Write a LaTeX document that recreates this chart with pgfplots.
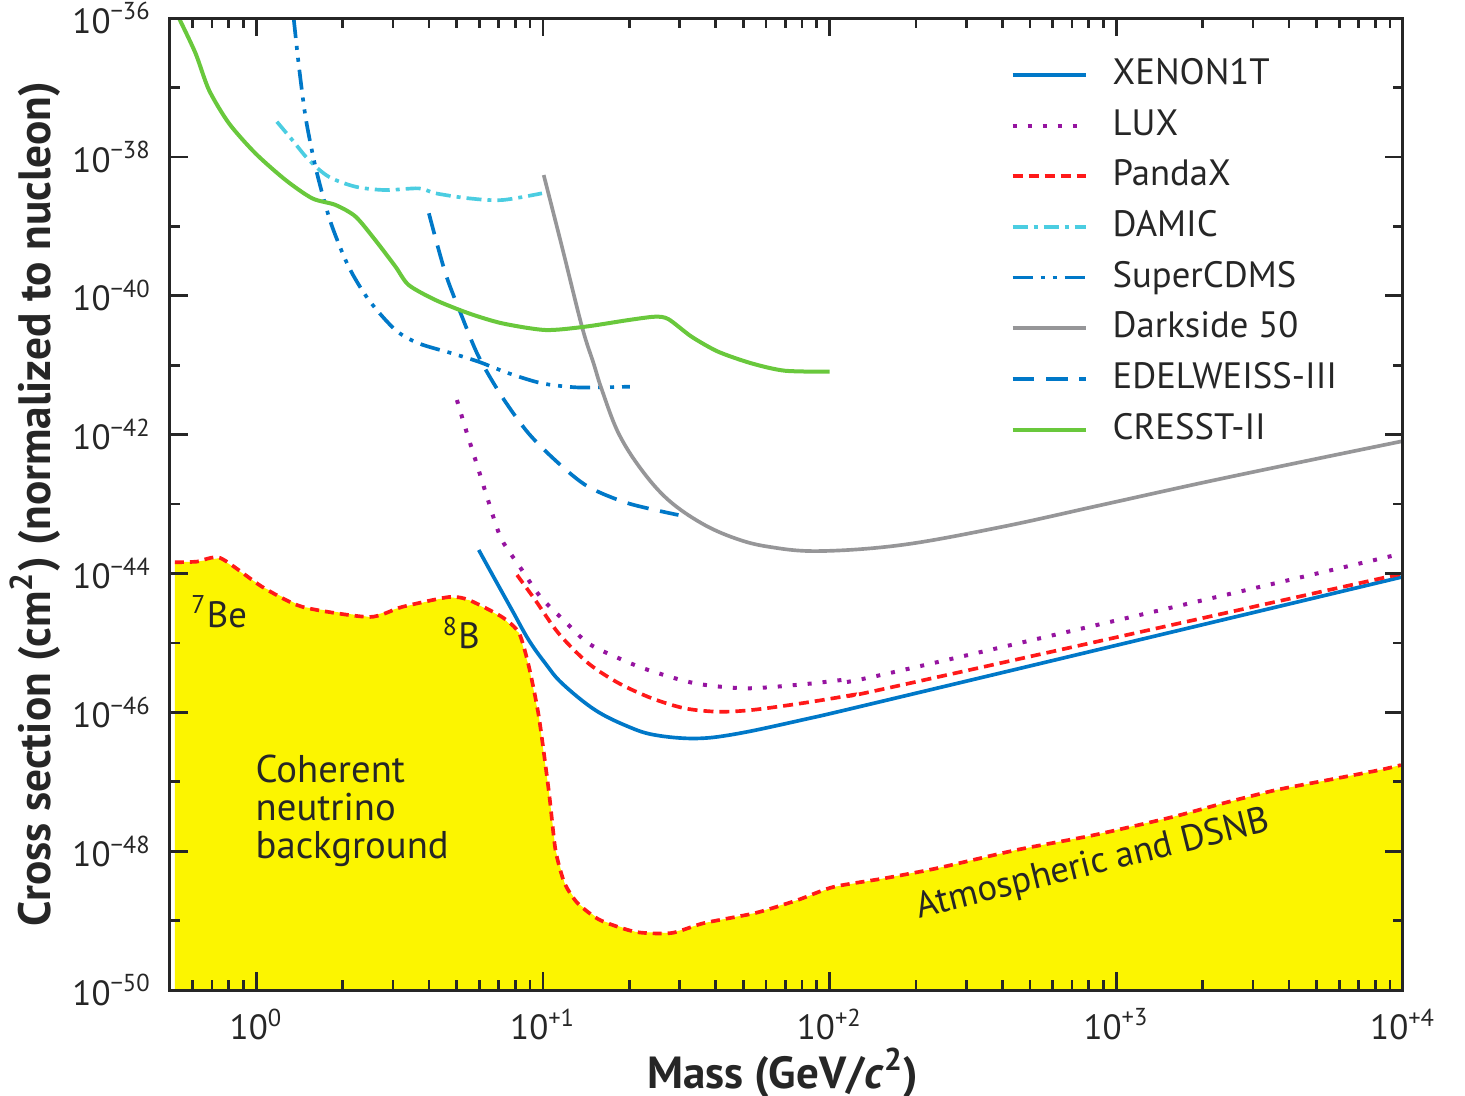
\documentclass[border=0pt]{standalone}
\usepackage{pgfplots}
\pgfplotsset{compat=1.18}
\usepackage{fontspec}
\setmainfont{PT Sans}
\definecolor{xblue}{RGB}{0,120,200}
\definecolor{luxpurple}{RGB}{150,20,160}
\definecolor{pred}{RGB}{255,25,25}
\definecolor{damic}{RGB}{75,205,225}
\definecolor{dsgray}{RGB}{150,150,152}
\definecolor{cgreen}{RGB}{105,200,60}
\definecolor{nyellow}{RGB}{252,245,0}
\begin{document}
\begin{tikzpicture}
\useasboundingbox (-51pt,-31.8pt) rectangle (388.5pt,297pt);
\begin{axis}[
  scale only axis, width=369.9pt, height=291.6pt,
  xmode=log, ymode=log,
  xmin=0.5, xmax=10000, ymin=1e-50, ymax=1e-36,
  xtick={1,10,100,1000,10000},
  xticklabels={10\textsuperscript{0},10\textsuperscript{+1},10\textsuperscript{+2},10\textsuperscript{+3},10\textsuperscript{+4}},
  minor xtick={0.5,0.6,0.7,0.8,0.9,2,3,4,5,6,7,8,9,20,30,40,50,60,70,80,90,200,300,400,500,600,700,800,900,2000,3000,4000,5000,6000,7000,8000,9000},
  ytick={1e-50,1e-48,1e-46,1e-44,1e-42,1e-40,1e-38,1e-36},
  yticklabels={10\textsuperscript{\textminus 50},10\textsuperscript{\textminus 48},10\textsuperscript{\textminus 46},10\textsuperscript{\textminus 44},10\textsuperscript{\textminus 42},10\textsuperscript{\textminus 40},10\textsuperscript{\textminus 38},10\textsuperscript{\textminus 36}},
  minor ytick={1e-49,1e-47,1e-45,1e-43,1e-41,1e-39,1e-37},
  tick align=inside,
  major tick length=5.5pt, minor tick length=3pt,
  every tick/.style={black!85, line width=0.8pt},
  axis line style={black!85, line width=0.9pt},
  axis on top,
  tick label style={font=\fontsize{10.5}{12}\selectfont, text=black!85},
  yticklabel style={inner xsep=0pt, xshift=-5.4pt},
  xticklabel style={inner ysep=0pt, yshift=-5.4pt},
  xlabel={Mass (GeV/\textit{c}\textsuperscript{2})},
  ylabel={Cross section (cm\textsuperscript{2}) (normalized to nucleon)},
  every axis x label/.style={at={(axis description cs:0.497,-0.0855)}, anchor=center, text=black!85, font=\fontsize{13.5}{15}\selectfont\bfseries},
  every axis y label/.style={at={(axis description cs:-0.1095,0.5)}, rotate=90, anchor=center, text=black!85, font=\fontsize{13.6}{15}\selectfont\bfseries},
  legend image code/.code={\draw[#1] (0pt,0pt) -- (22pt,0pt);},
  legend cell align=left,
  legend style={at={(axis description cs:0.6813,0.959)}, anchor=north west,
    draw=none, fill=none, inner sep=0pt, row sep=5.4pt, column sep=7.4pt,
    font=\fontsize{11}{13}\selectfont, text=black!85,
    nodes={inner sep=0pt, text height=7.8pt, text depth=2pt}},
]
% neutrino floor fill
\addplot[fill=nyellow, draw=none, forget plot] coordinates {
 (0.52,1.45e-44) (0.62,1.48e-44) (0.749,1.67e-44) (1.05,6.4e-45) (1.45,3.3e-45)
 (2.48,2.36e-45) (3.23,3.3e-45) (4.70,4.58e-45) (5.52,4.14e-45) (7.20,2.36e-45)
 (8.25,1.39e-45) (8.94,4.49e-46) (9.68,8.55e-47) (10.5,6.9e-48) (11.06,1.04e-48)
 (11.89,3.48e-49) (13.2,1.79e-49) (15.8,1.02e-49) (21.1,6.86e-50) (28.1,6.63e-50)
 (36.4,9.2e-50) (55.2,1.29e-49) (77.4,1.98e-49) (103,3.05e-49) (157,4.1e-49)
 (238,5.7e-49) (448,1.04e-48) (838,1.71e-48) (1567,3.1e-48) (2377,4.94e-48)
 (3607,7.6e-48) (5480,1.06e-47) (8318,1.48e-47) (9840,1.74e-47)
 (9840,1e-51) (0.52,1e-51)} -- cycle;
\addplot[pred, line width=1.1pt, dash pattern=on 2.7pt off 1.8pt, smooth, tension=0.4, forget plot] coordinates {
 (0.52,1.45e-44) (0.62,1.48e-44) (0.749,1.67e-44) (1.05,6.4e-45) (1.45,3.3e-45)
 (2.48,2.36e-45) (3.23,3.3e-45) (4.70,4.58e-45) (5.52,4.14e-45) (7.20,2.36e-45)
 (8.25,1.39e-45) (8.94,4.49e-46) (9.68,8.55e-47) (10.5,6.9e-48) (11.06,1.04e-48)
 (11.89,3.48e-49) (13.2,1.79e-49) (15.8,1.02e-49) (21.1,6.86e-50) (28.1,6.63e-50)
 (36.4,9.2e-50) (55.2,1.29e-49) (77.4,1.98e-49) (103,3.05e-49) (157,4.1e-49)
 (238,5.7e-49) (448,1.04e-48) (838,1.71e-48) (1567,3.1e-48) (2377,4.94e-48)
 (3607,7.6e-48) (5480,1.06e-47) (8318,1.48e-47) (9840,1.74e-47)};
% XENON1T
\addplot[xblue, line width=1.1pt, smooth, tension=0.6] coordinates {
 (5.97,2.18e-44) (6.82,8.05e-45) (7.80,2.97e-45) (8.92,1.10e-45) (10.19,5.08e-46)
 (11.65,2.62e-46) (15.2,1.08e-46) (19.89,6.2e-47) (24.6,4.71e-47) (33.9,4.2e-47)
 (46.8,4.86e-47) (79.9,7.74e-47) (178,1.68e-46) (10000,8.97e-45)};
\addlegendentry{XENON1T}
% LUX
\addplot[luxpurple, line width=1.2pt, dash pattern=on 1.2pt off 3.3pt, smooth, tension=0.5] coordinates {
 (5.01,3.15e-42) (5.43,1.05e-42) (5.89,3.65e-43) (6.38,1.27e-43) (6.92,4.47e-44)
 (7.30,2.72e-44) (8.45,1.12e-44) (9.79,4.63e-45) (11.8,2.13e-45) (14.4,9.86e-46)
 (18.4,6.0e-46) (23.3,4.07e-46) (33.9,2.62e-46) (50.7,2.22e-46) (75.7,2.47e-46)
 (110,2.92e-46) (164,3.72e-46) (10000,1.95e-44)};
\addlegendentry{LUX}
% PandaX
\addplot[pred, line width=1.1pt, dash pattern=on 3pt off 1.8pt, smooth, tension=0.5] coordinates {
 (8.12,9.5e-45) (9.40,4.14e-45) (11.34,1.37e-45) (14.4,5.08e-46) (18.4,2.62e-46)
 (24.0,1.59e-46) (31.3,1.14e-46) (40.9,1.02e-46) (53.5,1.08e-46) (79.9,1.35e-46)
 (119,1.77e-46) (178,2.47e-46) (10000,1.0e-44)};
\addlegendentry{PandaX}
% DAMIC
\addplot[damic, line width=1.1pt, dash pattern=on 4.5pt off 1.8pt on 1.2pt off 1.8pt, smooth, tension=0.5] coordinates {
 (1.18,3.21e-38) (1.335,1.75e-38) (1.526,9.0e-39) (1.79,5.18e-39) (2.22,3.72e-39)
 (2.82,3.33e-39) (3.69,3.52e-39) (4.22,2.99e-39) (5.51,2.53e-39) (7.20,2.39e-39)
 (9.92,2.99e-39)};
\addlegendentry{DAMIC}
% SuperCDMS
\addplot[xblue, line width=1.1pt, dash pattern=on 6pt off 2.4pt on 1.2pt off 2.4pt on 1.2pt off 2.4pt, smooth, tension=0.5] coordinates {
 (1.35,1.0e-36) (1.409,1.99e-37) (1.485,3.78e-38) (1.589,9.0e-39) (1.698,2.99e-39)
 (1.84,9.86e-40) (2.10,2.62e-40) (2.47,8.67e-41) (3.06,3.21e-41) (3.69,2.06e-41)
 (4.82,1.48e-41) (5.97,1.12e-41) (7.60,7.64e-42) (9.92,5.48e-42) (12.96,4.80e-42)
 (16.06,4.80e-42) (20.1,4.90e-42)};
\addlegendentry{SuperCDMS}
% Darkside 50
\addplot[dsgray, line width=1.1pt, smooth, tension=0.6] coordinates {
 (10.06,5.48e-39) (11.65,5.08e-40) (13.68,3.58e-41) (15.02,1.06e-41) (16.06,4.39e-42)
 (18.36,1.04e-42) (22.1,3.09e-43) (27.4,1.14e-43) (35.8,5.27e-44) (46.8,3.21e-44)
 (61.1,2.43e-44) (91.3,2.1e-44) (178,2.57e-44) (397,4.67e-44) (887,9.68e-44)
 (1978,2.01e-43) (4413,4.03e-43) (10000,8.07e-43)};
\addlegendentry{Darkside 50}
% EDELWEISS-III
\addplot[xblue, line width=1.1pt, dash pattern=on 6.5pt off 3.5pt, smooth, tension=0.5] coordinates {
 (4.00,1.54e-39) (4.57,2.10e-40) (5.22,4.99e-41) (5.97,1.32e-41) (7.20,3.51e-42)
 (8.91,1.04e-42) (11.34,3.86e-43) (14.4,1.77e-43) (19.9,1.02e-43) (29.7,6.95e-44)};
\addlegendentry{EDELWEISS-III}
% CRESST-II
\addplot[cgreen, line width=1.2pt, smooth, tension=0.45] coordinates {
 (0.51,1.6e-36) (0.538,9.9e-37) (0.614,3.10e-37) (0.684,9.18e-38) (0.803,3.04e-38)
 (0.994,1.12e-38) (1.265,4.65e-39) (1.567,2.53e-39) (1.89,2.03e-39) (2.22,1.38e-39)
 (2.60,6.34e-40) (3.06,2.62e-40) (3.40,1.43e-40) (4.22,8.67e-41) (5.51,5.58e-41)
 (7.20,4.01e-41) (10.2,3.21e-41) (14.0,3.58e-41) (19.9,4.47e-41) (24.6,4.99e-41)
 (27.4,4.6e-41) (33.0,2.57e-41) (40.9,1.56e-41) (53.5,1.06e-41) (69.8,8.32e-42)
 (100,8.05e-42)};
\addlegendentry{CRESST-II}
\node[anchor=west, font=\fontsize{11}{13}\selectfont, text=black!85, inner sep=0pt] at (axis cs:0.59,2.8e-45) {\textsuperscript{7}Be};
\node[anchor=west, font=\fontsize{11}{13}\selectfont, text=black!85, inner sep=0pt] at (axis cs:4.45,1.39e-45) {\textsuperscript{8}B};
\node[anchor=west, align=left, font=\fontsize{11.6}{11.4}\selectfont, text=black!85, inner sep=0pt] at (axis cs:0.99,3.8e-48) {Coherent\\neutrino\\background};
\node[rotate=14, font=\fontsize{11}{13}\selectfont, text=black!85, inner sep=0pt] at (axis cs:830,6.3e-49) {Atmospheric and DSNB};
\end{axis}
\end{tikzpicture}
\end{document}
